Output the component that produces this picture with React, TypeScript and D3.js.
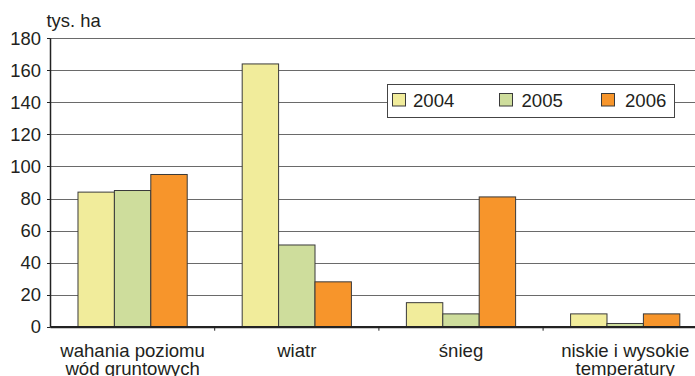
import React from "react";
import * as d3 from "d3";

const categories: string[][] = [
  ["wahania poziomu", "wód gruntowych"],
  ["wiatr"],
  ["śnieg"],
  ["niskie i wysokie", "temperatury"],
];
const seriesNames = ["2004", "2005", "2006"];
const values2004 = [84, 164, 15, 8];
const values2005 = [85, 51, 8, 2];
const values2006 = [95, 28, 81, 8];
const yTicks = [0, 20, 40, 60, 80, 100, 120, 140, 160, 180];
const unitLabel = "tys. ha";

const colors = ["#F1EC9B", "#CEDD9C", "#F7952B"];

export default function App() {
  const W = 695;
  const H = 376;
  const x0 = 50.5;
  const band = 164.2;
  const xs = d3
    .scaleBand<number>()
    .domain(d3.range(categories.length))
    .range([x0, x0 + band * categories.length])
    .paddingInner(0)
    .paddingOuter(0);
  const x1 = d3
    .scaleBand<string>()
    .domain(seriesNames)
    .range([0, band])
    .paddingInner(0)
    .paddingOuter(0.755);
  const y = d3.scaleLinear().domain([0, 180]).range([326.7, 38.3]);
  const series = [values2004, values2005, values2006];
  const font = "'Liberation Sans', Arial, Helvetica, sans-serif";
  const right = x0 + band * categories.length;
  const fs = 18.6;

  const legendX = 387.5;
  const legendY = 84.5;
  const legendItems = [
    { sx: 392.5, tx: 413 },
    { sx: 499.5, tx: 521.5 },
    { sx: 601.5, tx: 625 },
  ];

  return (
    <svg
      width={W}
      height={H}
      style={{ position: "absolute", left: 0, top: 0, background: "#fff" }}
      fontFamily={font}
    >
      {/* gridlines */}
      {yTicks.map((t) => (
        <line
          key={"g" + t}
          x1={x0}
          x2={right}
          y1={Math.round(y(t)) + 0.5}
          y2={Math.round(y(t)) + 0.5}
          stroke={t === 0 ? "#222" : "#6a6a6a"}
          strokeWidth={t === 0 ? 1.5 : 1}
        />
      ))}
      {/* y ticks + labels */}
      {yTicks.map((t) => (
        <g key={"t" + t}>
          <line
            x1={x0 - 3.5}
            x2={x0}
            y1={Math.round(y(t)) + 0.5}
            y2={Math.round(y(t)) + 0.5}
            stroke="#222"
          />
          <text
            x={41}
            y={y(t)}
            dy="0.35em"
            textAnchor="end"
            fontSize={18.4}
            fill="#231f20"
          >
            {t}
          </text>
        </g>
      ))}
      <text x={46.5} y={27} fontSize={18.4} fill="#231f20">
        {unitLabel}
      </text>
      {/* bars */}
      {categories.map((_, ci) =>
        seriesNames.map((s, si) => {
          const bx = (xs(ci) as number) + (x1(s) as number);
          const v = series[si][ci];
          return (
            <rect
              key={ci + "-" + s}
              x={bx}
              y={y(v)}
              width={x1.bandwidth()}
              height={y(0) - y(v)}
              fill={colors[si]}
              stroke="#3a3a3a"
              strokeWidth={1}
            />
          );
        })
      )}
      {/* axes */}
      <line x1={x0} x2={x0} y1={y(180)} y2={y(0) + 0.5} stroke="#222" strokeWidth={1.5} />
      <line x1={x0} x2={right} y1={y(0)} y2={y(0)} stroke="#222" strokeWidth={1.5} />
      {d3.range(1, categories.length).map((i) => (
        <line
          key={"xt" + i}
          x1={xs(i) as number}
          x2={xs(i) as number}
          y1={y(0)}
          y2={y(0) + 4}
          stroke="#222"
        />
      ))}
      {/* category labels */}
      {categories.map((lines, ci) => (
        <text
          key={"c" + ci}
          x={(xs(ci) as number) + band / 2}
          y={356.7}
          textAnchor="middle"
          fontSize={fs}
          fill="#231f20"
        >
          {lines.map((l, li) => (
            <tspan key={li} x={(xs(ci) as number) + band / 2} dy={li === 0 ? 0 : 18}>
              {l}
            </tspan>
          ))}
        </text>
      ))}
      {/* legend */}
      <rect
        x={legendX}
        y={legendY}
        width={287}
        height={33}
        fill="#fff"
        stroke="#444"
        strokeWidth={1}
      />
      {seriesNames.map((s, i) => (
        <g key={"l" + s}>
          <rect
            x={legendItems[i].sx}
            y={93.5}
            width={13}
            height={12.5}
            fill={colors[i]}
            stroke="#3a3a3a"
          />
          <text x={legendItems[i].tx} y={107} fontSize={18.6} fill="#231f20">
            {s}
          </text>
        </g>
      ))}
    </svg>
  );
}
